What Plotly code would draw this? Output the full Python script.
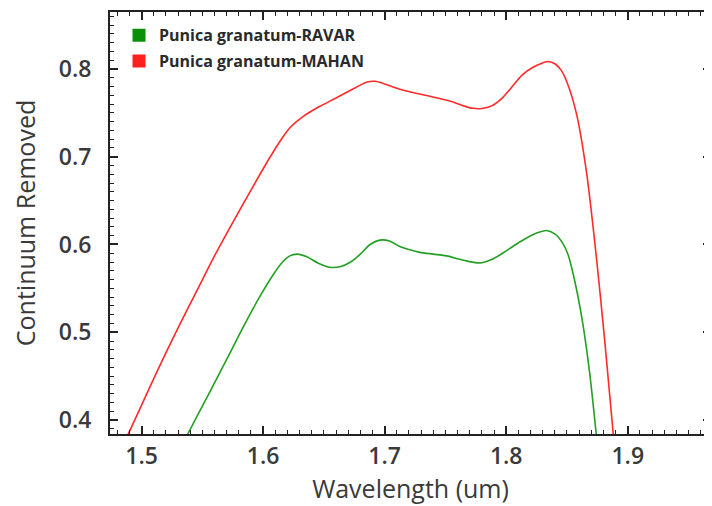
import plotly.graph_objects as go

# Wavelength (um) and continuum-removed values
wl_ravar = [1.532, 1.538, 1.555, 1.570, 1.584, 1.597, 1.608, 1.616, 1.622, 1.628,
            1.636, 1.645, 1.655, 1.664, 1.672, 1.680, 1.688, 1.696, 1.704, 1.712,
            1.7206, 1.729, 1.740, 1.751, 1.765, 1.778, 1.788, 1.797, 1.8056, 1.815,
            1.825, 1.833, 1.840, 1.8467, 1.851, 1.855, 1.859, 1.863, 1.8687, 1.874,
            1.876]
cr_ravar = [0.368, 0.384, 0.429, 0.469, 0.507, 0.540, 0.565, 0.580, 0.587, 0.589,
            0.586, 0.579, 0.574, 0.575, 0.580, 0.589, 0.600, 0.605, 0.604, 0.598,
            0.594, 0.591, 0.589, 0.587, 0.582, 0.579, 0.583, 0.590, 0.598, 0.606,
            0.613, 0.616, 0.612, 0.601, 0.588, 0.567, 0.541, 0.510, 0.453, 0.385,
            0.360]

wl_mahan = [1.484, 1.489, 1.500, 1.515, 1.530, 1.545, 1.560, 1.575, 1.590, 1.605,
            1.615, 1.622, 1.633, 1.646, 1.660, 1.675, 1.685, 1.692, 1.700, 1.710,
            1.7206, 1.737, 1.755, 1.765, 1.7727, 1.780, 1.788, 1.796, 1.805, 1.813,
            1.822, 1.830, 1.835, 1.840, 1.845, 1.850, 1.8577, 1.866, 1.874, 1.881,
            1.888, 1.890]
cr_mahan = [0.370, 0.384, 0.417, 0.462, 0.505, 0.546, 0.587, 0.625, 0.662, 0.698,
            0.720, 0.733, 0.746, 0.757, 0.767, 0.778, 0.785, 0.786, 0.783, 0.778,
            0.774, 0.769, 0.763, 0.758, 0.7552, 0.755, 0.758, 0.766, 0.780, 0.793,
            0.802, 0.807, 0.8086, 0.806, 0.799, 0.785, 0.7497, 0.683, 0.588, 0.491,
            0.385, 0.358]

series_names = ["Punica granatum-RAVAR", "Punica granatum-MAHAN"]
line_colors = ["#22a022", "#ff2a2a"]
legend_colors = ["#0a8f0a", "#ff2020"]

fig = go.Figure()
fig.add_trace(go.Scatter(x=wl_ravar, y=cr_ravar, mode="lines",
                         line=dict(color=line_colors[0], width=1.6, shape="spline", smoothing=0.8),
                         showlegend=False))
fig.add_trace(go.Scatter(x=wl_mahan, y=cr_mahan, mode="lines",
                         line=dict(color=line_colors[1], width=1.6, shape="spline", smoothing=0.8),
                         showlegend=False))
for i, name in enumerate(series_names):
    fig.add_trace(go.Scatter(x=[None], y=[None], mode="markers", name=name,
                             legendgroup=f"g{i}",
                             marker=dict(symbol="square", size=13, color=legend_colors[i])))

tick_font = dict(family="Open Sans", size=23, color="#3a3a3a", weight=600)
title_font = dict(family="Open Sans", size=25, color="#3a3a3a", weight=500)

axis_common = dict(
    showline=True, linecolor="#222", linewidth=2, mirror="ticks",
    ticks="inside", ticklen=8, tickwidth=1.5, tickcolor="#222",
    showgrid=False, zeroline=False, automargin=False,
    tickfont=tick_font,
)

fig.update_xaxes(range=[1.474, 1.9685], dtick=0.1, tick0=1.5,
                 minor=dict(ticks="inside", ticklen=4, dtick=0.01, tickcolor="#222", tickwidth=1.2),
                 title=dict(text="Wavelength (um)", font=title_font, standoff=8),
                 ticklabelstandoff=0,
                 **axis_common)
fig.update_yaxes(range=[0.384, 0.865], dtick=0.1, tick0=0.4,
                 minor=dict(ticks="inside", ticklen=4, dtick=0.01, tickcolor="#222", tickwidth=1.2),
                 title=dict(text="Continuum Removed", font=title_font, standoff=16),
                 ticklabelstandoff=12,
                 **axis_common)

fig.update_layout(
    width=704, height=498,
    margin=dict(l=102, r=1, t=4, b=72),
    plot_bgcolor="white", paper_bgcolor="white",
    legend=dict(x=0.015, y=0.985, xanchor="left", yanchor="top",
                font=dict(family="Open Sans", size=16, color="#2a2a2a", weight="bold"),
                bgcolor="rgba(0,0,0,0)", tracegroupgap=2, itemwidth=30),
)

fig.write_html("out.html")
